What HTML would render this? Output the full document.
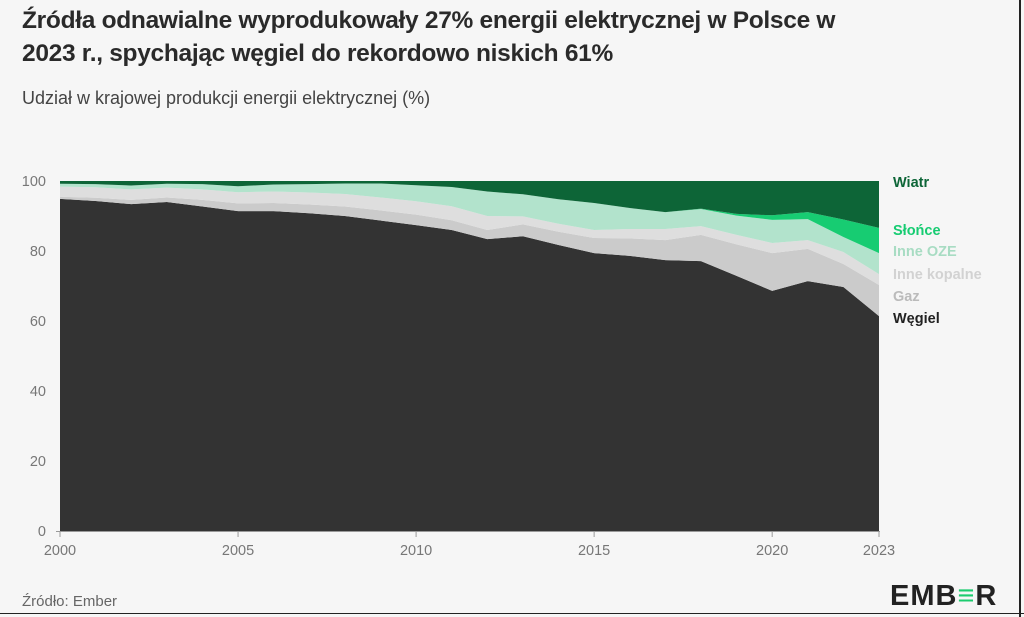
<!DOCTYPE html>
<html><head><meta charset="utf-8"><style>
body{margin:0;width:1024px;height:617px;background:#f6f6f6;font-family:"Liberation Sans",sans-serif;overflow:hidden;position:relative}
.t{position:absolute;left:22px;top:4px;font-size:24.5px;font-weight:bold;color:#2a2a2a;line-height:33px;letter-spacing:-0.3px}
.s{position:absolute;left:22px;top:88px;font-size:18px;color:#444}
.f{position:absolute;left:22px;top:593px;font-size:15px;color:#666}
.logo{position:absolute;left:890px;top:580px;font-size:29px;font-weight:bold;color:#222;letter-spacing:1px}
</style></head><body>
<div class="t">Źródła odnawialne wyprodukowały 27% energii elektrycznej w Polsce w<br>2023 r., spychając węgiel do rekordowo niskich 61%</div>
<div class="s">Udział w krajowej produkcji energii elektrycznej (%)</div>
<svg id="c" width="1024" height="617" style="position:absolute;left:0;top:0"></svg>
<div class="f">Źródło: Ember</div>
<div class="logo">EMB<span style="color:#1ccc6f">≡</span>R</div>
<div style="position:absolute;right:3px;top:0;width:2px;height:617px;background:#222"></div>
<div style="position:absolute;left:0;bottom:3px;width:1024px;height:1px;background:#222"></div>
<script>
const years=[2000,2001,2002,2003,2004,2005,2006,2007,2008,2009,2010,2011,2012,2013,2014,2015,2016,2017,2018,2019,2020,2021,2022,2023];
const coal=[94.9,94.3,93.4,94,92.7,91.4,91.4,90.8,90,88.7,87.4,86,83.4,84.2,81.7,79.4,78.6,77.4,77.1,72.9,68.6,71.4,69.7,61.4];
const gas=[0.6,0.9,1.2,1.3,1.9,2.2,2.3,2.5,2.7,2.9,3,2.8,2.6,3.4,3.8,4.3,5,5.7,7.5,9,10.8,9.2,6.6,8.9];
const otherFossil=[2.9,3,3,2.8,3,3.2,3.3,3.4,3.6,3.7,3.8,4,4,2.3,2.3,2.3,2.7,3.2,2.5,2.7,2.9,2.5,3.4,3.1];
const otherRenew=[0.8,0.9,1.1,1.1,1.5,1.7,2,2.4,3,4,4.6,5.5,7,6.3,7,7.7,6,4.8,4.9,5.5,6.6,6,4.3,6];
const solar=[0,0,0,0,0,0,0,0,0,0,0,0,0,0,0,0,0,0,0.1,0.5,1.3,2,5,7.2];
const wind=years.map((y,i)=>Math.max(0,100-coal[i]-gas[i]-otherFossil[i]-otherRenew[i]-solar[i]));
const yTicks=[0,20,40,60,80,100];
const xTicks=[2000,2005,2010,2015,2020,2023];
const series=[["wegiel",coal,"#333333","Węgiel","#222"],["gaz",gas,"#cbcbcb","Gaz","#bbb"],["inne-kopalne",otherFossil,"#dedede","Inne kopalne","#d2d2d2"],["inne-oze",otherRenew,"#b2e3cc","Inne OZE","#a8dcc3"],["slonce",solar,"#17cc72","Słońce","#17cc72"],["wiatr",wind,"#0d6537","Wiatr","#0d6537"]];
const X=y=>60+(y-2000)*(879-60)/23, Y=v=>531-v*3.5;
const svg=document.getElementById('c'),NS="http://www.w3.org/2000/svg";
function mk(t,a){const e=document.createElementNS(NS,t);for(const k in a)e.setAttribute(k,a[k]);svg.appendChild(e);return e;}
let base=years.map(()=>0);
const labelY=[318,296,274,251,230,182];
series.forEach((s,si)=>{
  const top=base.map((b,i)=>b+s[1][i]);
  let d="M"+years.map((y,i)=>X(y)+","+Y(top[i])).join("L");
  for(let i=years.length-1;i>=0;i--)d+="L"+X(years[i])+","+Y(base[i]);
  const p=mk("path",{d:d+"Z",fill:s[2]});
  
  
  const t=mk("text",{x:893,y:labelY[si]+5,fill:s[4],"font-size":14.5,"font-weight":"bold"});
  t.textContent=s[3];
  
  
  base=top;
});
yTicks.forEach(v=>{
  const t=mk("text",{x:46,y:Y(v)+5,fill:"#777","font-size":14.5,"text-anchor":"end"});
  t.textContent=v;
  
  
});
const ax=mk("line",{x1:56,x2:880,y1:531.5,y2:531.5,stroke:"#999"});


xTicks.forEach(y=>{
  const l=mk("line",{x1:X(y),x2:X(y),y1:531,y2:537,stroke:"#999"});
  
  
  const t=mk("text",{x:X(y),y:555,fill:"#777","font-size":14.5,"text-anchor":"middle"});
  t.textContent=y;
  
  
});
</script>
</body></html>
